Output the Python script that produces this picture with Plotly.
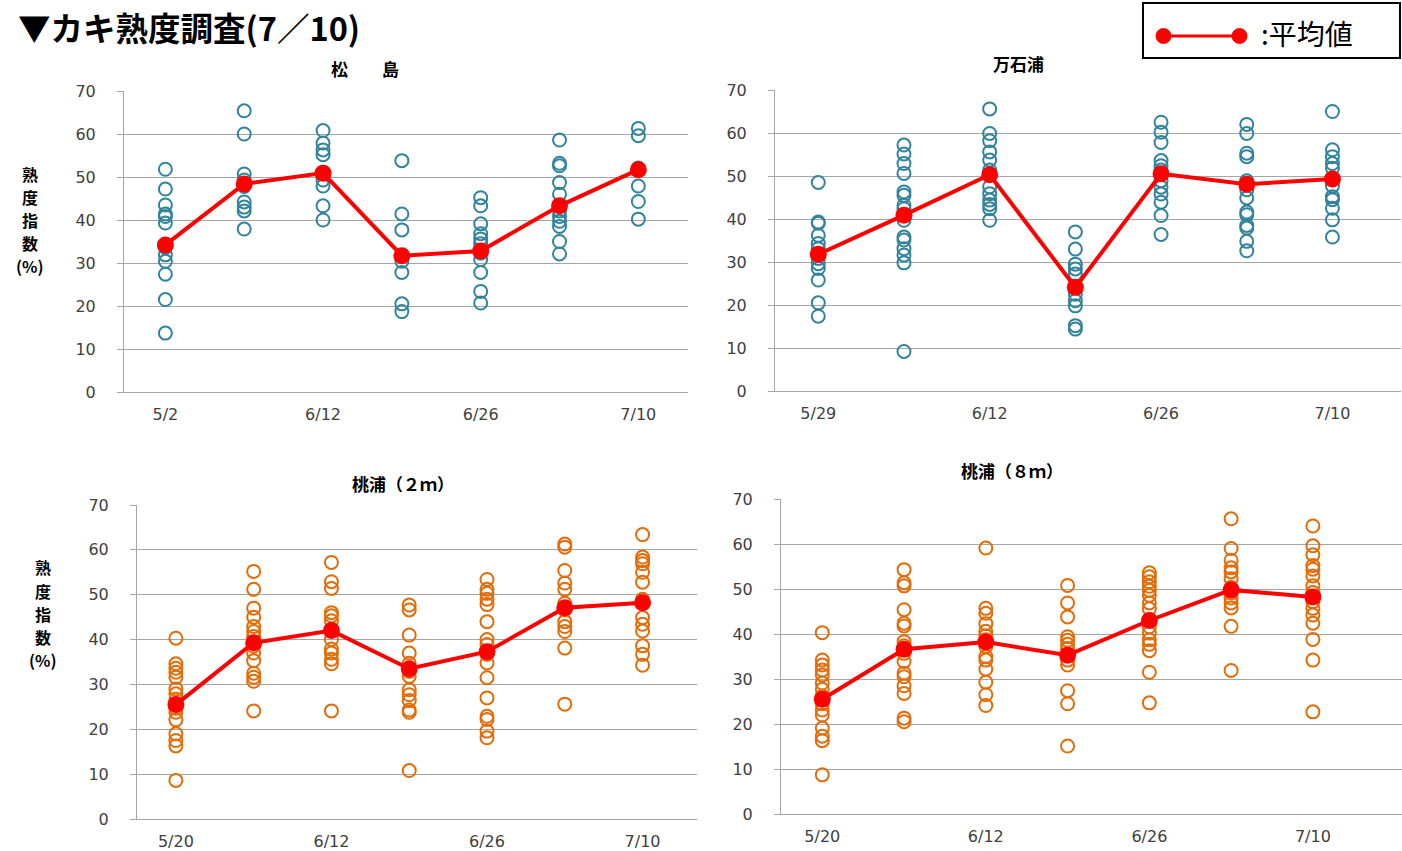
import plotly.graph_objects as go

W, H = 1402, 851

# ---------------- data ----------------
title_text = "▼カキ熟度調査(7／10)"
legend_text = ":平均値"
ytitle_lines = ["熟", "度", "指", "数", "(%)"]

p1_title = "松　　島"
p1_labels = ["5/2", "", "6/12", "", "6/26", "", "7/10"]
p1_values = [
    [51.8, 47.2, 43.5, 41.4, 40.8, 39.3, 33.6, 31.9, 30.4, 27.4, 21.5, 13.7],
    [65.4, 60.0, 50.7, 49.3, 47.8, 44.2, 43.0, 42.1, 37.9],
    [60.8, 57.9, 56.3, 55.2, 50.9, 49.3, 47.9, 43.3, 40.0],
    [53.8, 41.4, 37.7, 30.4, 27.8, 20.5, 18.7],
    [45.2, 43.3, 39.1, 36.8, 35.6, 34.5, 32.3, 30.8, 27.8, 23.4, 20.7],
    [58.6, 53.2, 52.6, 48.7, 46.0, 42.1, 40.8, 39.7, 38.5, 35.0, 32.1],
    [61.3, 59.6, 52.1, 51.7, 47.9, 44.3, 40.2],
]
p1_mean = [34.2, 48.4, 50.9, 31.7, 32.8, 43.3, 51.7]

p2_title = "万石浦"
p2_labels = ["5/29", "", "6/12", "", "6/26", "", "7/10"]
p2_values = [
    [48.5, 39.3, 39.0, 36.2, 34.3, 33.1, 32.0, 30.8, 29.6, 28.5, 25.8, 20.5, 17.4],
    [57.2, 55.1, 52.9, 50.6, 46.3, 45.5, 43.2, 42.4, 39.7, 35.8, 35.1, 33.1, 31.6, 29.8, 9.2],
    [65.6, 59.9, 58.2, 55.6, 53.7, 51.4, 47.5, 45.9, 44.4, 43.4, 42.4, 39.7],
    [37.0, 33.0, 29.5, 28.4, 27.2, 24.1, 22.5, 21.0, 19.8, 15.2, 14.4],
    [62.5, 60.2, 57.8, 53.6, 52.4, 51.4, 48.9, 47.4, 45.8, 43.9, 40.8, 36.4],
    [62.0, 59.9, 55.3, 54.5, 48.9, 46.8, 44.9, 41.6, 41.0, 38.5, 37.9, 34.8, 32.6],
    [65.0, 56.1, 54.5, 52.9, 51.8, 49.1, 47.7, 45.2, 44.5, 42.5, 39.8, 35.8],
]
p2_mean = [31.8, 40.9, 50.3, 24.1, 50.5, 48.1, 49.3]

p3_title = "桃浦（２ｍ）"
p3_labels = ["5/20", "", "6/12", "", "6/26", "", "7/10"]
p3_values = [
    [40.3, 34.6, 33.6, 32.7, 31.6, 29.0, 27.9, 26.7, 24.7, 23.8, 22.1, 19.0, 17.5, 16.3, 8.6],
    [55.2, 51.2, 47.0, 45.0, 42.9, 41.8, 40.7, 38.5, 37.0, 35.3, 32.5, 31.6, 30.7, 24.1],
    [57.2, 52.9, 51.4, 46.0, 45.3, 44.2, 42.2, 40.0, 37.9, 37.0, 35.6, 34.6, 24.1],
    [47.7, 46.6, 41.0, 37.0, 34.7, 32.9, 31.8, 28.8, 27.7, 26.4, 24.3, 23.8, 10.8],
    [53.4, 51.2, 50.3, 49.0, 47.8, 44.0, 40.0, 38.9, 36.7, 34.8, 31.5, 27.0, 22.9, 22.2, 19.6, 18.1],
    [61.3, 60.6, 55.4, 52.6, 51.2, 48.1, 46.6, 44.0, 42.9, 41.8, 38.1, 25.6],
    [63.4, 58.4, 57.6, 56.9, 55.0, 52.8, 49.0, 44.9, 43.4, 41.9, 38.6, 36.7, 34.3],
]
p3_mean = [25.5, 39.3, 42.0, 33.5, 37.3, 47.1, 48.2]

p4_title = "桃浦（８ｍ）"
p4_labels = ["5/20", "", "6/12", "", "6/26", "", "7/10"]
p4_values = [
    [40.3, 34.2, 33.1, 32.0, 30.9, 29.1, 27.7, 26.2, 24.5, 23.1, 22.0, 19.1, 17.3, 16.3, 8.7],
    [54.3, 51.4, 50.7, 45.4, 42.4, 41.8, 38.3, 37.4, 35.7, 33.9, 31.3, 30.5, 28.5, 26.8, 21.3, 20.5],
    [59.1, 45.7, 44.6, 42.3, 40.6, 39.6, 38.7, 37.2, 35.0, 34.2, 32.2, 29.3, 26.5, 24.1],
    [50.8, 46.9, 43.8, 39.4, 38.6, 37.7, 36.8, 35.3, 34.2, 33.1, 27.4, 24.5, 15.1],
    [53.6, 52.7, 51.6, 50.6, 49.7, 48.6, 46.9, 45.6, 43.0, 41.6, 40.2, 38.7, 37.7, 36.3, 31.5, 24.7],
    [65.6, 59.0, 56.4, 54.7, 53.8, 52.3, 50.4, 49.1, 48.0, 46.9, 45.8, 41.7, 31.9],
    [64.0, 59.6, 57.6, 55.2, 54.4, 52.9, 50.7, 49.2, 47.2, 45.7, 44.2, 42.4, 38.8, 34.2, 22.7],
]
p4_mean = [25.5, 36.6, 38.2, 35.3, 43.0, 49.8, 48.2]

y_ticks = [0, 10, 20, 30, 40, 50, 60, 70]

# ---------------- styling / layout helpers ----------------
TEAL = "#31849B"
ORANGE = "#E36C09"
RED = "#FF0000"
GRID = "#A6A6A6"
TICKC = "#404040"


def px_x(p):
    return p / W


def px_y(p):
    return 1 - p / H


panels = [
    # (title, labels, values, mean, color, x0, x1, ytop, ybot, xrange, title pos)
    (p1_title, p1_labels, p1_values, p1_mean, TEAL, 124, 688, 91, 392, [-0.525, 6.63], (365, 68)),
    (p2_title, p2_labels, p2_values, p2_mean, TEAL, 775, 1401, 90, 391, [-0.505, 6.8], (1018, 63)),
    (p3_title, p3_labels, p3_values, p3_mean, ORANGE, 137, 697, 505, 819, [-0.5, 6.7], (403, 483)),
    (p4_title, p4_labels, p4_values, p4_mean, ORANGE, 781, 1402, 499, 814, [-0.505, 7.09], (1012, 470)),
]

fig = go.Figure()
annotations = []
layout_axes = {}

for i, (ttl, labels, values, mean, color, x0, x1, yt, yb, xr, tpos) in enumerate(panels):
    n = i + 1
    xa = "x" if n == 1 else f"x{n}"
    ya = "y" if n == 1 else f"y{n}"
    xs, ys = [], []
    for gi, vals in enumerate(values):
        xs += [gi] * len(vals)
        ys += vals
    fig.add_trace(go.Scatter(
        x=xs, y=ys, mode="markers", xaxis=xa, yaxis=ya, showlegend=False,
        marker=dict(symbol="circle-open", size=13, color=color, line=dict(width=2, color=color)),
        hoverinfo="y"))
    fig.add_trace(go.Scatter(
        x=list(range(len(mean))), y=mean, mode="lines+markers", xaxis=xa, yaxis=ya,
        showlegend=False, line=dict(color=RED, width=4),
        marker=dict(symbol="circle", size=17, color=RED), hoverinfo="y"))

    xkey = "xaxis" if n == 1 else f"xaxis{n}"
    ykey = "yaxis" if n == 1 else f"yaxis{n}"
    layout_axes[xkey] = dict(
        domain=[px_x(x0), px_x(x1)], range=xr, anchor=ya, automargin=False,
        tickmode="array", tickvals=list(range(len(labels))), ticktext=labels,
        showgrid=False, zeroline=False, showline=True, linecolor=GRID, linewidth=1,
        ticks="", tickfont=dict(family="DejaVu Sans", size=16, color=TICKC),
        ticklabelstandoff=8, fixedrange=True)
    layout_axes[ykey] = dict(
        domain=[px_y(yb), px_y(yt)], range=[0, 70], anchor=xa, automargin=False,
        tickmode="array", tickvals=y_ticks,
        showgrid=True, gridcolor=GRID, gridwidth=1, zeroline=False,
        showline=True, linecolor=GRID, linewidth=1,
        ticks="outside", ticklen=6, tickcolor=GRID,
        tickfont=dict(family="DejaVu Sans", size=16, color=TICKC),
        ticklabelstandoff=18, fixedrange=True)
    annotations.append(dict(
        text=ttl, x=px_x(tpos[0]), y=px_y(tpos[1]), xref="paper", yref="paper",
        xanchor="center", yanchor="middle", showarrow=False,
        font=dict(family="Noto Sans CJK JP", size=17, color="#000000", weight="bold")))

# y-axis titles (stacked vertical text, one line per annotation)
ytitle_pos = [
    (30, [174, 197, 220, 243, 266]),
    (43, [567, 591, 614, 637, 660]),
]
for cx, ylist in ytitle_pos:
    for txt, cy in zip(ytitle_lines, ylist):
        annotations.append(dict(
            text=txt, x=px_x(cx), y=px_y(cy), xref="paper", yref="paper",
            xanchor="center", yanchor="middle", showarrow=False,
            font=dict(family="Noto Sans CJK JP", size=16, color="#000000", weight="bold")))

# main title
annotations.append(dict(
    text=title_text, x=px_x(16), y=px_y(26), xref="paper", yref="paper",
    xanchor="left", yanchor="middle", showarrow=False,
    font=dict(family="Noto Sans CJK JP", size=32.5, color="#000000", weight="bold")))

# legend text
annotations.append(dict(
    text=legend_text, x=px_x(1259), y=px_y(33), xref="paper", yref="paper",
    xanchor="left", yanchor="middle", showarrow=False,
    font=dict(family="Noto Sans CJK JP", size=28, color="#000000")))

shapes = [
    dict(type="rect", xref="paper", yref="paper",
         x0=px_x(1143), x1=px_x(1400), y0=px_y(58), y1=px_y(3),
         line=dict(color="#000000", width=2), fillcolor="rgba(0,0,0,0)"),
    dict(type="line", xref="paper", yref="paper",
         x0=px_x(1163), x1=px_x(1240), y0=px_y(36), y1=px_y(36),
         line=dict(color=RED, width=3)),
    dict(type="circle", xref="paper", yref="paper",
         x0=px_x(1156), x1=px_x(1171), y0=px_y(43.5), y1=px_y(28.5),
         line=dict(color=RED, width=1), fillcolor=RED),
    dict(type="circle", xref="paper", yref="paper",
         x0=px_x(1232), x1=px_x(1247), y0=px_y(43.5), y1=px_y(28.5),
         line=dict(color=RED, width=1), fillcolor=RED),
]

fig.update_layout(
    width=W, height=H, autosize=False,
    margin=dict(l=0, r=0, t=0, b=0, pad=0),
    paper_bgcolor="#FFFFFF", plot_bgcolor="#FFFFFF",
    annotations=annotations, shapes=shapes,
    showlegend=False,
    **layout_axes,
)

post_js = (
    "document.documentElement.style.margin='0';"
    "document.body.style.margin='0';"
    "document.body.style.padding='0';"
    "document.body.style.overflow='hidden';"
    "var gd=document.getElementById('{plot_id}');"
    "if(gd){gd.style.position='fixed';gd.style.left='0px';gd.style.top='0px';}"
)

fig.write_html("out.html", config={"displayModeBar": False}, post_script=post_js)
